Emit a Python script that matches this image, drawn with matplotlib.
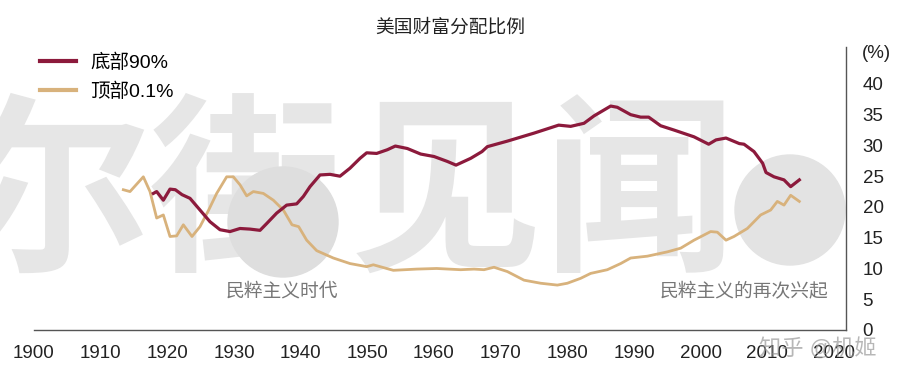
# -*- coding: utf-8 -*-
"""
美国财富分配比例 : 底部90% と 顶部0.1%
"""
import matplotlib
matplotlib.use('Agg')
import matplotlib.pyplot as plt
from matplotlib.patches import Ellipse

# bottom 90% share of wealth (%)
bottom90_year = [1917.9, 1918.4, 1919.4, 1920.4, 1921.2, 1922.2, 1923.4, 1924.9, 1926.4, 1927.9,
                 1929.4, 1930.9, 1932.4, 1933.9, 1934.9, 1936.4, 1937.9, 1939.4, 1940.4, 1941.4,
                 1942.9, 1944.4, 1945.9, 1947.4, 1948.9, 1949.9, 1951.4, 1953.0, 1954.2, 1956.0,
                 1958.0, 1960.0, 1962.0, 1963.3, 1965.5, 1967.2, 1968.0, 1971.0, 1975.0, 1978.7,
                 1980.5, 1982.5, 1984.0, 1986.5, 1987.5, 1989.5, 1991.0, 1992.2, 1994.0, 1996.0,
                 1999.0, 2001.2, 2002.3, 2003.8, 2005.8, 2006.5, 2008.0, 2009.3, 2009.8, 2011.0,
                 2012.5, 2013.5, 2014.8]
bottom90_val = [22.2, 22.5, 21.1, 22.9, 22.8, 22.0, 21.4, 19.5, 17.6, 16.3,
                16.0, 16.5, 16.4, 16.2, 17.3, 19.0, 20.3, 20.5, 21.7, 23.3,
                25.2, 25.3, 25.0, 26.3, 27.9, 28.8, 28.7, 29.3, 29.9, 29.5,
                28.6, 28.2, 27.4, 26.8, 27.9, 29.0, 29.8, 30.7, 32.0, 33.3,
                33.1, 33.6, 34.8, 36.4, 36.2, 35.0, 34.6, 34.6, 33.2, 32.5,
                31.4, 30.2, 30.9, 31.2, 30.3, 30.2, 29.0, 27.1, 25.6, 24.9,
                24.4, 23.3, 24.4]

# top 0.1% share of wealth (%)
top01_year = [1913.4, 1914.4, 1916.4, 1917.4, 1918.4, 1919.4, 1920.4, 1921.4, 1922.4, 1923.7,
              1924.9, 1926.2, 1927.4, 1928.9, 1929.9, 1930.9, 1931.9, 1932.9, 1934.4, 1935.9,
              1937.4, 1938.7, 1939.7, 1940.9, 1942.4, 1944.9, 1947.4, 1949.9, 1950.9, 1953.9,
              1957.4, 1960.4, 1964.0, 1966.0, 1967.5, 1969.0, 1971.0, 1973.5, 1976.0, 1978.5,
              1980.0, 1982.0, 1983.5, 1986.0, 1988.0, 1989.5, 1992.0, 1995.0, 1997.0, 1999.0,
              2001.5, 2002.5, 2003.8, 2005.0, 2007.0, 2009.0, 2010.5, 2011.5, 2012.5, 2013.5,
              2014.8]
top01_val = [22.8, 22.5, 24.9, 22.5, 18.2, 18.7, 15.2, 15.3, 17.1, 15.2,
             16.8, 19.5, 22.2, 24.9, 24.9, 23.6, 21.8, 22.5, 22.2, 21.1,
             19.5, 17.1, 16.8, 14.6, 12.9, 11.7, 10.8, 10.3, 10.6, 9.7,
             9.9, 10.0, 9.8, 9.9, 9.8, 10.2, 9.5, 8.1, 7.6, 7.3,
             7.6, 8.4, 9.2, 9.8, 10.8, 11.7, 12.0, 12.7, 13.3, 14.6,
             16.0, 15.9, 14.6, 15.2, 16.5, 18.7, 19.5, 20.9, 20.3, 21.9,
             20.9]

xticks = [1900, 1910, 1920, 1930, 1940, 1950, 1960, 1970, 1980, 1990, 2000, 2010, 2020]
yticks = [0, 5, 10, 15, 20, 25, 30, 35, 40]

W, H = 913, 389


def main():
    plt.rcParams['font.family'] = ['Liberation Sans', 'Noto Sans CJK SC', 'DejaVu Sans']
    fig = plt.figure(figsize=(W / 100, H / 100), dpi=100, facecolor='w')

    # watermark behind everything
    wm_color = '#e6e6e6'
    for ch, xp in zip(['尔', '街', '见', '闻'], [55, 245, 445, 640]):
        fig.text(xp / W, 1 - 200 / H, ch, fontsize=138, color=wm_color,
                 family='Noto Sans CJK SC', fontweight='bold',
                 ha='center', va='center', zorder=0)
    fig.patches.append(Ellipse((283 / W, 1 - 222 / H), 110 / W, 110 / H, color='#dedede',
                               transform=fig.transFigure, zorder=0.5))
    fig.patches.append(Ellipse((790 / W, 1 - 210 / H), 110 / W, 110 / H, color='#e3e3e3',
                               transform=fig.transFigure, zorder=0.5))

    ax = fig.add_axes([34 / W, 1 - 330 / H, 812 / W, 283 / H])
    ax.set_zorder(1)
    ax.patch.set_alpha(0)

    ax.plot(bottom90_year, bottom90_val, color='#8c1a3c', lw=2.3, label='底部90%', zorder=3)
    ax.plot(top01_year, top01_val, color='#d8b27c', lw=2.0, label='顶部0.1%', zorder=2)

    ax.set_xlim(1900, 2021.8)
    ax.set_ylim(0, 46)
    ax.set_xticks(xticks)
    ax.set_yticks(yticks)
    ax.yaxis.tick_right()
    ax.tick_params(axis='both', length=0, labelsize=13.5, colors='#222222')
    ax.tick_params(axis='x', pad=11)
    ax.tick_params(axis='y', pad=12)
    for s in ['top', 'left']:
        ax.spines[s].set_visible(False)
    for s in ['bottom', 'right']:
        ax.spines[s].set_color('#555555')
        ax.spines[s].set_linewidth(1.0)

    fig.text(450 / W, 1 - 28 / H, '美国财富分配比例', fontsize=13.5, color='#222222',
             ha='center', va='center')
    fig.text(876 / W, 1 - 53 / H, '(%)', fontsize=13.5, color='#222222',
             ha='center', va='center')

    ax.text(1937.2, 6.2, '民粹主义时代', fontsize=13.5, color='#777777', ha='center', va='center')
    ax.text(2019.1, 6.2, '民粹主义的再次兴起', fontsize=13.5, color='#777777',
            ha='right', va='center')

    lg = fig.legend(loc='upper left', bbox_to_anchor=(22 / W, 1 - 36 / H), frameon=False,
                    fontsize=14, handlelength=1.9, handletextpad=0.7, labelspacing=0.55)
    for line in lg.get_lines():
        line.set_linewidth(3)

    fig.text(818 / W, 1 - 350 / H, '知乎 @机姬', fontsize=16, color='#999999', alpha=0.7,
             ha='center', va='center', zorder=5)

    plt.savefig('out.png', dpi=100, facecolor='w')


if __name__ == '__main__':
    main()
